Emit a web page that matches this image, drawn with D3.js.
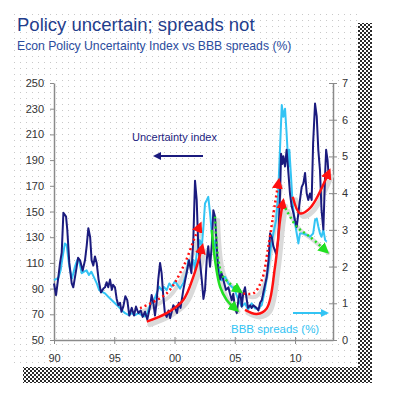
<!doctype html>
<html>
<head>
    <title>Policy uncertain; spreads not</title>
    <script src="https://d3js.org/d3.v7.min.js"></script>
</head>
<style>
    body { margin: 0; background: #fff; }
    .axis text { font: 11px Arial, "Liberation Sans", sans-serif; fill: #333; }
    .axis path, .axis line { stroke: #8a8a8a; }
</style>
<body>
<script>

// chart data
var uncYear = [1990.0,1990.17,1990.36,1990.5,1990.64,1990.78,1991.0,1991.1,1991.27,1991.47,1991.6,1991.83,1992.0,1992.16,1992.38,1992.57,1992.71,1992.85,1993.0,1993.12,1993.26,1993.4,1993.54,1993.7,1993.9,1994.1,1994.23,1994.37,1994.5,1994.65,1994.8,1994.9,1995.06,1995.2,1995.34,1995.48,1995.6,1995.75,1995.92,1996.08,1996.25,1996.45,1996.64,1996.8,1997.0,1997.2,1997.36,1997.55,1997.74,1997.97,1998.1,1998.24,1998.38,1998.52,1998.65,1998.8,1998.93,1999.07,1999.2,1999.35,1999.5,1999.63,1999.77,1999.9,2000.04,2000.2,2000.35,2000.5,2000.73,2001.0,2001.2,2001.4,2001.56,2001.7,2001.84,2001.97,2002.1,2002.26,2002.4,2002.53,2002.67,2002.8,2002.95,2003.1,2003.22,2003.36,2003.5,2003.64,2003.78,2003.9,2004.05,2004.27,2004.47,2004.6,2004.75,2004.88,2005.0,2005.16,2005.3,2005.44,2005.58,2005.7,2005.85,2006.0,2006.1,2006.27,2006.4,2006.54,2006.8,2006.96,2007.1,2007.24,2007.37,2007.65,2007.8,2007.93,2008.07,2008.2,2008.43,2008.6,2008.76,2008.84,2008.95,2009.03,2009.17,2009.3,2009.45,2009.58,2009.72,2009.86,2010.0,2010.14,2010.28,2010.41,2010.55,2010.7,2010.83,2010.97,2011.1,2011.24,2011.38,2011.5,2011.66,2011.8,2011.93,2012.07,2012.2,2012.35,2012.5,2012.58,2012.7,2012.77];
var uncValue = [94,85,99,110,118,149,146,136,110,94,91,104,114,112,104,112,123,137,130,112,108,115,110,97,87,90,91,95,91,97,89,93,91,82,77,79,72,76,84,81,69,75,69,76,71,73,68,72,66,76,85,79,69,80,97,110,102,84,71,68,73,67,72,77,75,71,79,75,89,102,112,102,128,174,159,123,112,97,82,89,112,123,107,125,151,146,123,102,97,102,97,89,91,86,81,86,76,71,81,89,76,86,91,81,75,77,75,77,75,73,79,81,87,99,112,133,130,123,117,128,164,195,187,193,185,198,180,164,154,149,143,138,149,159,169,172,180,164,159,164,159,203,234,224,198,182,151,136,180,198,190,180];

var bbbYear = [1990.0,1990.36,1990.55,1990.72,1990.9,1991.05,1991.2,1991.33,1991.5,1991.74,1991.93,1992.1,1992.3,1992.5,1992.7,1992.9,1993.1,1993.3,1993.55,1993.75,1993.95,1994.23,1994.5,1994.78,1995.06,1995.34,1995.6,1995.9,1996.2,1996.45,1996.73,1997.0,1997.28,1997.55,1997.74,1997.97,1998.24,1998.52,1998.73,1998.93,1999.1,1999.35,1999.57,1999.77,2000.04,2000.25,2000.46,2000.73,2001.0,2001.15,2001.35,2001.56,2001.7,2001.84,2001.97,2002.1,2002.26,2002.4,2002.53,2002.67,2002.8,2002.95,2003.1,2003.22,2003.36,2003.64,2003.9,2004.2,2004.47,2004.75,2005.0,2005.3,2005.58,2005.85,2006.1,2006.4,2006.68,2006.96,2007.24,2007.5,2007.8,2008.0,2008.2,2008.43,2008.6,2008.76,2008.9,2009.03,2009.17,2009.3,2009.45,2009.53,2009.65,2009.8,2010.0,2010.14,2010.28,2010.41,2010.7,2010.97,2011.24,2011.5,2011.66,2011.8,2011.93,2012.07,2012.2,2012.35,2012.5,2012.63];
var bbbValue = [1.63,1.69,1.9,2.27,2.63,2.59,2.18,1.9,1.68,2.0,2.18,2.13,1.82,1.86,1.9,1.77,1.86,1.72,1.54,1.36,1.32,1.27,1.18,1.09,1.0,0.91,0.82,0.73,0.68,0.73,0.68,0.73,0.68,0.64,0.73,0.95,1.04,1.27,1.45,1.36,1.45,1.36,1.54,1.45,1.6,1.5,1.4,1.55,1.82,2.18,2.0,2.18,1.9,2.36,2.54,2.72,2.54,3.09,3.72,3.81,3.9,3.45,2.9,2.54,2.7,2.0,1.63,1.72,1.54,1.45,1.36,1.09,0.91,1.0,0.82,1.0,0.86,0.86,0.95,1.36,2.0,2.54,2.9,3.27,4.0,5.27,6.4,6.08,6.3,5.63,4.72,5.18,4.54,3.72,3.18,2.9,2.63,2.9,2.9,2.86,2.81,2.9,3.27,3.31,3.09,2.9,2.81,3.0,2.72,2.68];

// hand-drawn trend arrows, as [year, spread %]
var redDotted2000 = [[1997.14,0.87],[1999.35,1.27],[2000.73,2.0],[2001.7,2.81],[2002.06,3.09]];
var redSolid2000 = [[1997.7,0.5],[1999.35,0.73],[2000.73,1.09],[2001.56,1.72],[2002.26,2.5]];
var greenSolid2003 = [[2003.09,3.0],[2003.36,2.18],[2003.78,1.45],[2004.33,1.09],[2005.02,0.86]];
var greenDotted2003 = [[2003.36,3.36],[2003.64,2.18],[2004.05,1.72],[2005.3,1.36]];
var redDotted2005 = [[2005.71,1.27],[2006.54,1.27],[2007.24,1.63],[2007.78,2.54],[2008.34,3.72],[2008.61,4.27]];
var redSolid2005 = [[2005.85,0.82],[2006.82,0.71],[2007.65,0.86],[2008.34,2.0],[2008.76,3.27],[2008.98,3.72]];
var greenDotted2009 = [[2009.2,3.59],[2010.14,3.09],[2011.24,2.81],[2012.49,2.45]];
var redSolid2010 = [[2009.81,3.9],[2010.41,3.45],[2011.24,3.59],[2012.76,4.54]];

var xTicks = [1990, 1995, 2000, 2005, 2010];
var xTickLabels = ['90', '95', '00', '05', '10'];
var leftTicks = [50, 70, 90, 110, 130, 150, 170, 190, 210, 230, 250];
var rightTicks = [0, 1, 2, 3, 4, 5, 6, 7];

var width = 393;
var height = 405;
var navy = '#1b1b7e';
var sky = '#33c4f4';
var red = '#ff1010';
var green = '#22e022';

var svg = d3.select('body')
            .append('svg')
            .attr('width', width)
            .attr('height', height);

var defs = svg.append('defs');

// dotted panel background
var dots = defs.append('pattern')
            .attr('id', 'dots')
            .attr('width', 6)
            .attr('height', 6)
            .attr('patternUnits', 'userSpaceOnUse');
dots.append('rect').attr('width', 6).attr('height', 6).attr('fill', '#fff');
dots.append('rect').attr('x', 2).attr('y', 2).attr('width', 1).attr('height', 1).attr('fill', '#c8c8c8');

// checkered drop shadow
var checker = defs.append('pattern')
            .attr('id', 'checker')
            .attr('width', 4)
            .attr('height', 4)
            .attr('patternUnits', 'userSpaceOnUse');
checker.append('rect').attr('width', 4).attr('height', 4).attr('fill', '#fff');
checker.append('rect').attr('width', 2).attr('height', 2).attr('fill', '#2a2a2a');
checker.append('rect').attr('x', 2).attr('y', 2).attr('width', 2).attr('height', 2).attr('fill', '#2a2a2a');

// arrow heads
function addMarker(id, color, size) {
    defs.append('marker')
        .attr('id', id)
        .attr('viewBox', '0 0 10 10')
        .attr('refX', 5)
        .attr('refY', 5)
        .attr('markerUnits', 'userSpaceOnUse')
        .attr('markerWidth', size)
        .attr('markerHeight', size)
        .attr('orient', 'auto')
        .append('path')
        .attr('d', 'M0,0 L10,5 L0,10 Z')
        .attr('fill', color);
}
addMarker('headRed', red, 11);
addMarker('headGreen', green, 11);
addMarker('headNavy', navy, 8);
addMarker('headSky', sky, 8);

svg.append('rect')
    .attr('x', 23).attr('y', 23)
    .attr('width', 349).attr('height', 360)
    .attr('fill', 'url(#checker)');

svg.append('rect')
    .attr('x', 14).attr('y', 10)
    .attr('width', 344).attr('height', 357)
    .attr('fill', 'url(#dots)');

// titles
svg.append('text')
    .attr('x', 17)
    .attr('y', 31)
    .attr('fill', '#1f3d8c')
    .style('font', '18.5px Arial, "Liberation Sans", sans-serif')
    .text('Policy uncertain; spreads not');

svg.append('text')
    .attr('x', 17)
    .attr('y', 50)
    .attr('fill', '#2b4c9e')
    .style('font', '12.2px Arial, "Liberation Sans", sans-serif')
    .text('Econ Policy Uncertainty Index vs BBB spreads (%)');

// scales
var xScale = d3.scaleLinear().domain([1990, 2013.15]).range([54, 333]);
var yLeft = d3.scaleLinear().domain([50, 250]).range([340, 83]);
var yRight = d3.scaleLinear().domain([0, 7]).range([340, 83]);

// axes
svg.append('g')
    .attr('class', 'axis')
    .attr('transform', 'translate(54,0)')
    .call(d3.axisLeft(yLeft).tickValues(leftTicks).tickSizeInner(4).tickSizeOuter(0).tickPadding(6));

var rAxis = svg.append('g')
    .attr('class', 'axis')
    .attr('transform', 'translate(333,0)')
    .call(d3.axisRight(yRight).tickValues(rightTicks).tickFormat(d3.format('d'))
          .tickSizeInner(4).tickSizeOuter(0).tickPadding(5));
rAxis.selectAll('.tick line').attr('x1', -4);

var xAxis = svg.append('g')
    .attr('class', 'axis')
    .attr('transform', 'translate(0,340)')
    .call(d3.axisBottom(xScale).tickValues(xTicks)
          .tickFormat(function(d, i) { return xTickLabels[i]; })
          .tickSizeInner(4).tickSizeOuter(0).tickPadding(10));
xAxis.selectAll('.tick line').attr('y1', -3);
svg.selectAll('.axis .domain').attr('stroke-width', 1.5);

// series lines
var uncData = uncYear.map(function(d, i) { return [d, uncValue[i]]; });
var bbbData = bbbYear.map(function(d, i) { return [d, bbbValue[i]]; });

var uncLine = d3.line()
            .x(function(d) { return xScale(d[0]); })
            .y(function(d) { return yLeft(d[1]); });
var rightLine = d3.line()
            .x(function(d) { return xScale(d[0]); })
            .y(function(d) { return yRight(d[1]); });
var curve = d3.line()
            .curve(d3.curveCatmullRom)
            .x(function(d) { return xScale(d[0]); })
            .y(function(d) { return yRight(d[1]); });

var arrows = [
    { pts: redSolid2000, color: red, dash: null, head: 'headRed' },
    { pts: redDotted2000, color: red, dash: '2,3', head: 'headRed' },
    { pts: greenSolid2003, color: green, dash: null, head: 'headGreen' },
    { pts: greenDotted2003, color: green, dash: '2,3', head: 'headGreen' },
    { pts: redSolid2005, color: red, dash: null, head: 'headRed' },
    { pts: redDotted2005, color: red, dash: '2,3', head: 'headRed' },
    { pts: greenDotted2009, color: green, dash: '2,3', head: 'headGreen' },
    { pts: redSolid2010, color: red, dash: null, head: 'headRed' }
];

// grey shadows under the arrows
svg.append('g')
    .attr('transform', 'translate(3,3)')
    .selectAll('path')
    .data(arrows)
    .enter()
    .append('path')
    .attr('d', function(d) { return curve(d.pts); })
    .attr('fill', 'none')
    .attr('stroke', '#dadada')
    .attr('stroke-width', function(d) { return d.dash ? 4 : 5; })
    .attr('stroke-linecap', 'round');

svg.append('path')
    .datum(bbbData)
    .attr('d', rightLine)
    .attr('fill', 'none')
    .attr('stroke', sky)
    .attr('stroke-width', 2)
    .attr('stroke-linejoin', 'round');

svg.append('path')
    .datum(uncData)
    .attr('d', uncLine)
    .attr('fill', 'none')
    .attr('stroke', navy)
    .attr('stroke-width', 2)
    .attr('stroke-linejoin', 'round');

svg.append('g')
    .selectAll('path')
    .data(arrows)
    .enter()
    .append('path')
    .attr('d', function(d) { return curve(d.pts); })
    .attr('fill', 'none')
    .attr('stroke', function(d) { return d.color; })
    .attr('stroke-width', 2.5)
    .attr('stroke-dasharray', function(d) { return d.dash; })
    .attr('marker-end', function(d) { return 'url(#' + d.head + ')'; });

// legend labels
svg.append('text')
    .attr('x', 132)
    .attr('y', 141)
    .attr('fill', navy)
    .style('font', '11px Arial, "Liberation Sans", sans-serif')
    .text('Uncertainty index');

svg.append('line')
    .attr('x1', 203).attr('y1', 156)
    .attr('x2', 157).attr('y2', 156)
    .attr('stroke', navy)
    .attr('stroke-width', 2)
    .attr('marker-end', 'url(#headNavy)');

svg.append('text')
    .attr('x', 231)
    .attr('y', 333)
    .attr('fill', sky)
    .style('font', '11.5px Arial, "Liberation Sans", sans-serif')
    .text('BBB spreads (%)');

svg.append('line')
    .attr('x1', 293).attr('y1', 313)
    .attr('x2', 325).attr('y2', 313)
    .attr('stroke', sky)
    .attr('stroke-width', 2)
    .attr('marker-end', 'url(#headSky)');

</script>
</body>
</html>
